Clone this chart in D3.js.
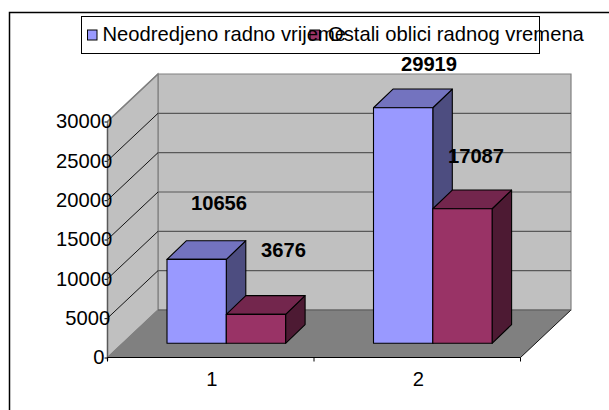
<!DOCTYPE html>
<html><head><meta charset="utf-8">
<style>html,body{margin:0;padding:0;background:#fff;overflow:hidden}svg{display:block}text{font-family:"Liberation Sans",Arial,sans-serif;fill:#000}</style>
<script src="https://cdn.jsdelivr.net/npm/d3@7"></script></head>
<body><svg id="c" width="609" height="410"></svg>
<script>
const categories = ["1","2"];
const seriesNames = ["Neodredjeno radno vrijeme","Ostali oblici radnog vremena"];
const seriesA = [10656,29919];
const seriesB = [3676,17087];
const yTicks = [0,5000,10000,15000,20000,25000,30000];
const colorsFront = ["#9999ff","#993366"];
const colorsTop = ["#7373bf","#73264d"];
const colorsSide = ["#4d4d80","#4d1a33"];

const svg = d3.select("#c");
// frame: only the top and left edges are visible
svg.append("path").attr("d","M9.5,410V12.5H609").attr("fill","none").attr("stroke","#000").attr("stroke-width",1.5);

const y = d3.scaleLinear().domain([0,30000]).range([357.5,121.5]);
const x = d3.scaleBand().domain(categories).range([107.5,520.5]);
const dx = 50.5, dy = -47.5;
const barDx = 19.5, barDy = -18.7;
const barFrontY = d3.scaleLinear().domain([0,30000]).range([343.3,107.1]);
const path = pts => "M"+pts.map(p=>p.join(",")).join("L")+"Z";
const x0 = x.range()[0], x1 = x.range()[1];
const yb = y(0), yt = y(30000);

// back wall
svg.append("path").attr("d",path([[x0+dx,yt+dy],[x1+dx,yt+dy],[x1+dx,yb+dy],[x0+dx,yb+dy]])).attr("fill","#c0c0c0").attr("stroke","#808080").attr("stroke-width",1.2);
// side wall
svg.append("path").attr("d",path([[x0,yt],[x0+dx,yt+dy],[x0+dx,yb+dy],[x0,yb]])).attr("fill","#c0c0c0").attr("stroke","#808080").attr("stroke-width",1.2);
// floor
svg.append("path").attr("d",path([[x0,yb],[x0+dx,yb+dy],[x1+dx,yb+dy],[x1,yb]])).attr("fill","#808080").attr("stroke","none");
// gridlines
yTicks.slice(1,-1).forEach(t=>{
  svg.append("line").attr("x1",x0+dx).attr("x2",x1+dx).attr("y1",y(t)+dy).attr("y2",y(t)+dy).attr("stroke","#595959").attr("stroke-width",1.1);
});
yTicks.slice(1).forEach(t=>{
  svg.append("line").attr("x1",x0).attr("x2",x0+dx).attr("y1",y(t)).attr("y2",y(t)+dy).attr("stroke",t===30000?"#808080":"#000").attr("stroke-width",t===30000?1.2:0.9);
});
// floor edge lines
svg.append("line").attr("x1",x0).attr("x2",x0+dx).attr("y1",yb).attr("y2",yb+dy).attr("stroke","#808080").attr("stroke-width",1);
svg.append("line").attr("x1",x1).attr("x2",x1+dx).attr("y1",yb).attr("y2",yb+dy).attr("stroke","#000").attr("stroke-width",0.9);
svg.append("line").attr("x1",x0+dx).attr("x2",x1+dx).attr("y1",yb+dy).attr("y2",yb+dy).attr("stroke","#595959").attr("stroke-width",1);

// bars
const barW = 59.3, barOff = 59.5;
[seriesA,seriesB].forEach((vals,s)=>{
  vals.forEach((v,i)=>{
    const l = x(categories[i])+barOff+s*barW, r = l+barW, b = barFrontY(0), t = barFrontY(v);
    const g = svg.append("g").attr("stroke","#000").attr("stroke-width",1.1).attr("stroke-linejoin","round");
    g.append("path").attr("d",path([[r,t],[r+barDx,t+barDy],[r+barDx,b+barDy],[r,b]])).attr("fill",colorsSide[s]);
    g.append("path").attr("d",path([[l,t],[l+barDx,t+barDy],[r+barDx,t+barDy],[r,t]])).attr("fill",colorsTop[s]);
    g.append("rect").attr("x",l).attr("y",t).attr("width",barW).attr("height",b-t).attr("fill",colorsFront[s]);
  });
});

// axes
svg.append("line").attr("x1",x0).attr("x2",x0).attr("y1",yt+3).attr("y2",yb+3).attr("stroke","#595959").attr("stroke-width",1.4);
svg.append("g").attr("transform",`translate(${x0},0)`)
  .call(d3.axisLeft(y).tickValues(yTicks).tickFormat(d3.format("d")).tickSize(3))
  .call(g=>{g.select(".domain").remove();
    g.selectAll("line").attr("stroke","#000");
    // start of each label follows the source's narrower metrics, so wide labels run over the axis
    g.selectAll("text").attr("font-size",20.2).attr("font-family","Liberation Sans")
      .attr("text-anchor","start").attr("dy",null).attr("y",d=>d===0?5.6:6.3)
      .attr("x",function(d){return -5 - String(d).length*9.3;});});
svg.append("g").attr("transform",`translate(0,${yb})`)
  .call(d3.axisBottom(x).tickSize(0).tickPadding(13))
  .call(g=>{g.select(".domain").remove();
    g.selectAll("text").attr("font-size",20.2).attr("font-family","Liberation Sans").attr("dy",null).attr("y",28.2).attr("x",1.2);});
svg.append("line").attr("x1",x0).attr("x2",x1).attr("y1",yb).attr("y2",yb).attr("stroke","#000").attr("stroke-width",1.2);
[0,1,2].forEach(i=>svg.append("line").attr("x1",x0+i*x.bandwidth()).attr("x2",x0+i*x.bandwidth()).attr("y1",yb).attr("y2",yb+4).attr("stroke","#000"));

// legend
svg.append("rect").attr("x",81.5).attr("y",16.5).attr("width",458).attr("height",37).attr("fill","#fff").attr("stroke","#000").attr("stroke-width",1);
const legX = [[87.5,102.5],[310,328]];
seriesNames.forEach((n,i)=>{
  svg.append("rect").attr("x",legX[i][0]).attr("y",30).attr("width",9.5).attr("height",10).attr("fill",colorsFront[i]).attr("stroke","#000").attr("stroke-width",1);
});
seriesNames.forEach((n,i)=>{
  svg.append("text").attr("x",legX[i][1]).attr("y",40.7).attr("font-size",20.2).text(n);
});

// data labels
const labelPos = [[219,210],[283.5,256.7],[429,71],[476,163]];
[seriesA[0],seriesB[0],seriesA[1],seriesB[1]].forEach((v,i)=>{
  svg.append("text").attr("x",labelPos[i][0]).attr("y",labelPos[i][1]).attr("text-anchor","middle")
    .attr("font-size",20.2).attr("font-weight","bold").text(v);
});
</script></body></html>
